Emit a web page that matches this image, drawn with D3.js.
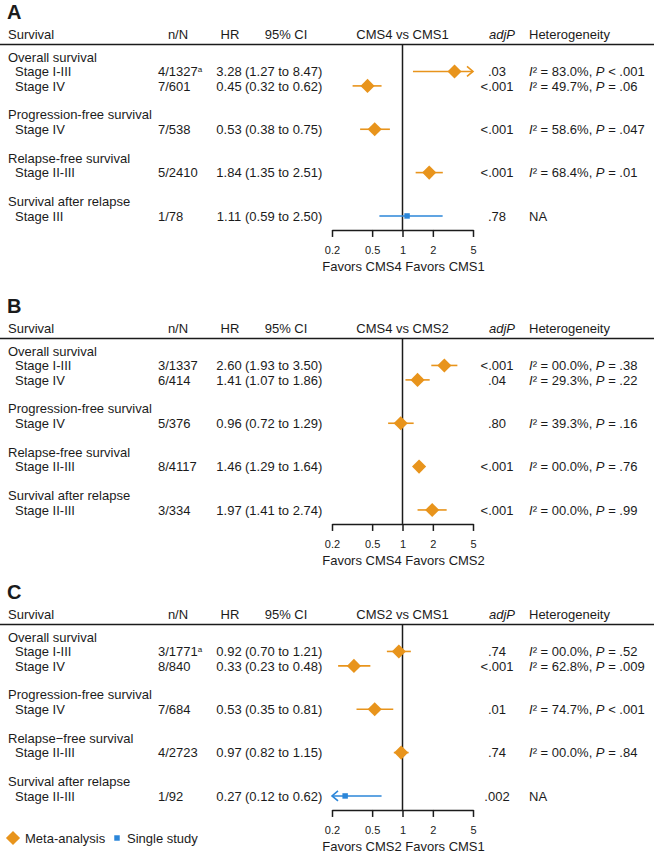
<!DOCTYPE html>
<html>
<head>
<meta charset="utf-8">
<script src="https://cdn.jsdelivr.net/npm/d3@7"></script>
<style>
  body { margin: 0; background: #fff; }
  svg { display: block; font-family: "Liberation Sans", Arial, Helvetica, sans-serif; }
</style>
</head>
<body>
<script>
// ---- data ----
const panelLabels = ["A", "B", "C"];
const comparisons = ["CMS4 vs CMS1", "CMS4 vs CMS2", "CMS2 vs CMS1"];
const favorsLabels = ["Favors CMS4 Favors CMS1", "Favors CMS4 Favors CMS2", "Favors CMS2 Favors CMS1"];
const groupNames = [
  ["Overall survival", "Progression-free survival", "Relapse-free survival", "Survival after relapse"],
  ["Overall survival", "Progression-free survival", "Relapse-free survival", "Survival after relapse"],
  ["Overall survival", "Progression-free survival", "Relapse\u2212free survival", "Survival after relapse"]
];
const stages = [
  ["Stage I-III", "Stage IV", "Stage IV", "Stage II-III", "Stage III"],
  ["Stage I-III", "Stage IV", "Stage IV", "Stage II-III", "Stage II-III"],
  ["Stage I-III", "Stage IV", "Stage IV", "Stage II-III", "Stage II-III"]
];
const nN = [
  ["4/1327", "7/601", "7/538", "5/2410", "1/78"],
  ["3/1337", "6/414", "5/376", "8/4117", "3/334"],
  ["3/1771", "8/840", "7/684", "4/2723", "1/92"]
];
const footnote = [
  [true, false, false, false, false],
  [false, false, false, false, false],
  [true, false, false, false, false]
];
const hr = [
  [3.28, 0.45, 0.53, 1.84, 1.11],
  [2.60, 1.41, 0.96, 1.46, 1.97],
  [0.92, 0.33, 0.53, 0.97, 0.27]
];
const ciLow = [
  [1.27, 0.32, 0.38, 1.35, 0.59],
  [1.93, 1.07, 0.72, 1.29, 1.41],
  [0.70, 0.23, 0.35, 0.82, 0.12]
];
const ciHigh = [
  [8.47, 0.62, 0.75, 2.51, 2.50],
  [3.50, 1.86, 1.29, 1.64, 2.74],
  [1.21, 0.48, 0.81, 1.15, 0.62]
];
const adjP = [
  [".03", "<.001", "<.001", "<.001", ".78"],
  ["<.001", ".04", ".80", "<.001", "<.001"],
  [".74", "<.001", ".01", ".74", ".002"]
];
const i2 = [
  ["83.0%", "49.7%", "58.6%", "68.4%", null],
  ["00.0%", "29.3%", "39.3%", "00.0%", "00.0%"],
  ["00.0%", "62.8%", "74.7%", "00.0%", null]
];
const hetP = [
  ["< .001", "= .06", "= .047", "= .01", null],
  ["= .38", "= .22", "= .16", "= .76", "= .99"],
  ["= .52", "= .009", "< .001", "= .84", null]
];
const single = [
  [false, false, false, false, true],
  [false, false, false, false, false],
  [false, false, false, false, true]
];
const tickValues = [0.2, 0.5, 1, 2, 5];
const tickLabels = ["0.2", "0.5", "1", "2", "5"];

// slots inside a panel: group titles and rows (one blank slot between groups)
const titleSlots = [0, 4, 7, 10];
const rowSlots = [1, 2, 5, 8, 11];

// ---- layout ----
const W = 654, H = 854;
const orange = "#E8941C";
const blue = "#2B86D9";
const ink = "#1b1b1b";
const headerY = [34, 328, 614];   // centre of header text per panel
const slotStep = 14.45;

const svg = d3.select("body").append("svg")
  .attr("width", W)
  .attr("height", H);

const x = d3.scaleLog().domain([0.2, 5]).range([332, 473]);

const diamond = d3.symbol().type(d3.symbolSquare).size(100);
const square = d3.symbol().type(d3.symbolSquare).size(30);

function txt(g, xPos, yCentre, s, anchor) {
  return g.append("text")
    .attr("x", xPos)
    .attr("y", yCentre + 4.6)
    .attr("font-size", 13)
    .attr("fill", ink)
    .attr("text-anchor", anchor || "start")
    .text(s);
}

function drawPanel(p) {
  const hy = headerY[p];
  const g = svg.append("g");

  // panel letter
  g.append("text")
    .attr("x", 7).attr("y", hy - 15)
    .attr("font-size", 20).attr("font-weight", "bold")
    .attr("fill", ink)
    .text(panelLabels[p]);

  // header row
  txt(g, 8, hy, "Survival");
  txt(g, 178, hy, "n/N", "middle");
  txt(g, 230, hy, "HR", "middle");
  txt(g, 286, hy, "95% CI", "middle");
  txt(g, x(1), hy, comparisons[p], "middle");
  txt(g, 515, hy, "adjP", "end").attr("font-style", "italic");
  txt(g, 529, hy, "Heterogeneity");

  const lineY = hy + 10.5;
  g.append("line")
    .attr("x1", 0).attr("x2", W)
    .attr("y1", lineY).attr("y2", lineY)
    .attr("stroke", ink).attr("stroke-width", 1.6);

  const y = d3.scaleLinear()
    .domain([0, 11])
    .range([hy + 23, hy + 23 + 11 * slotStep]);

  const axisY = y(11) + 14;

  // vertical line at HR = 1
  g.append("line")
    .attr("x1", x(1)).attr("x2", x(1))
    .attr("y1", lineY).attr("y2", axisY)
    .attr("stroke", ink).attr("stroke-width", 1.5);

  // group titles
  groupNames[p].forEach(function (name, k) {
    txt(g, 8, y(titleSlots[k]), name);
  });

  // rows
  for (let i = 0; i < 5; i++) {
    const cy = y(rowSlots[i]);
    txt(g, 15, cy, stages[p][i]);
    const t = txt(g, 158, cy, nN[p][i]);
    if (footnote[p][i]) {
      t.append("tspan").attr("font-size", 8).attr("dy", -4).text("a");
    }
    txt(g, 229, cy, hr[p][i].toFixed(2), "middle");
    txt(g, 245, cy, "(" + ciLow[p][i].toFixed(2) + " to " + ciHigh[p][i].toFixed(2) + ")");
    txt(g, 497, cy, adjP[p][i], "middle");
    if (i2[p][i] === null) {
      txt(g, 529, cy, "NA");
    } else {
      const h = txt(g, 529, cy, "");
      h.append("tspan").attr("font-style", "italic").text("I");
      h.append("tspan").text("\u00b2 = " + i2[p][i] + ", ");
      h.append("tspan").attr("font-style", "italic").text("P");
      h.append("tspan").text(" " + hetP[p][i]);
    }

    // confidence interval
    const col = single[p][i] ? blue : orange;
    const lo = Math.max(ciLow[p][i], 0.2);
    const hi = Math.min(ciHigh[p][i], 5);
    g.append("line")
      .attr("x1", x(lo)).attr("x2", x(hi))
      .attr("y1", cy).attr("y2", cy)
      .attr("stroke", col).attr("stroke-width", 1.6);
    if (ciHigh[p][i] > 5) {
      g.append("path")
        .attr("d", "M" + (x(5) - 6) + "," + (cy - 5) + "L" + x(5) + "," + cy + "L" + (x(5) - 6) + "," + (cy + 5))
        .attr("fill", "none").attr("stroke", col).attr("stroke-width", 1.6);
    }
    if (ciLow[p][i] < 0.2) {
      g.append("path")
        .attr("d", "M" + (x(0.2) + 6) + "," + (cy - 5) + "L" + x(0.2) + "," + cy + "L" + (x(0.2) + 6) + "," + (cy + 5))
        .attr("fill", "none").attr("stroke", col).attr("stroke-width", 1.6);
    }
    // point estimate
    if (single[p][i]) {
      g.append("path")
        .attr("d", square())
        .attr("transform", "translate(" + x(hr[p][i]) + "," + cy + ")")
        .attr("fill", blue);
    } else {
      g.append("path")
        .attr("d", diamond())
        .attr("transform", "translate(" + x(hr[p][i]) + "," + cy + ") rotate(45)")
        .attr("fill", orange);
    }
  }

  // axis
  const axis = d3.axisBottom(x)
    .tickValues(tickValues)
    .tickFormat(function (d, i) { return tickLabels[i]; })
    .tickSize(7)
    .tickSizeOuter(0)
    .tickPadding(9);
  const ax = g.append("g")
    .attr("transform", "translate(0," + axisY + ")")
    .call(axis);
  ax.select(".domain").attr("stroke", ink).attr("stroke-width", 1.5);
  ax.selectAll(".tick line").attr("stroke", ink).attr("stroke-width", 1.5);
  ax.selectAll(".tick text")
    .attr("fill", ink)
    .attr("font-size", 11)
    .attr("font-family", "\"Liberation Sans\", Arial, Helvetica, sans-serif");

  txt(g, x(1) + 1, axisY + 36, favorsLabels[p], "middle");
}

drawPanel(0);
drawPanel(1);
drawPanel(2);

// legend
const legY = 838;
svg.append("path")
  .attr("d", diamond())
  .attr("transform", "translate(13," + legY + ") rotate(45)")
  .attr("fill", orange);
txt(svg, 25, legY, "Meta-analysis");
svg.append("path")
  .attr("d", square())
  .attr("transform", "translate(117," + legY + ")")
  .attr("fill", blue);
txt(svg, 127, legY, "Single study");
</script>
</body>
</html>
